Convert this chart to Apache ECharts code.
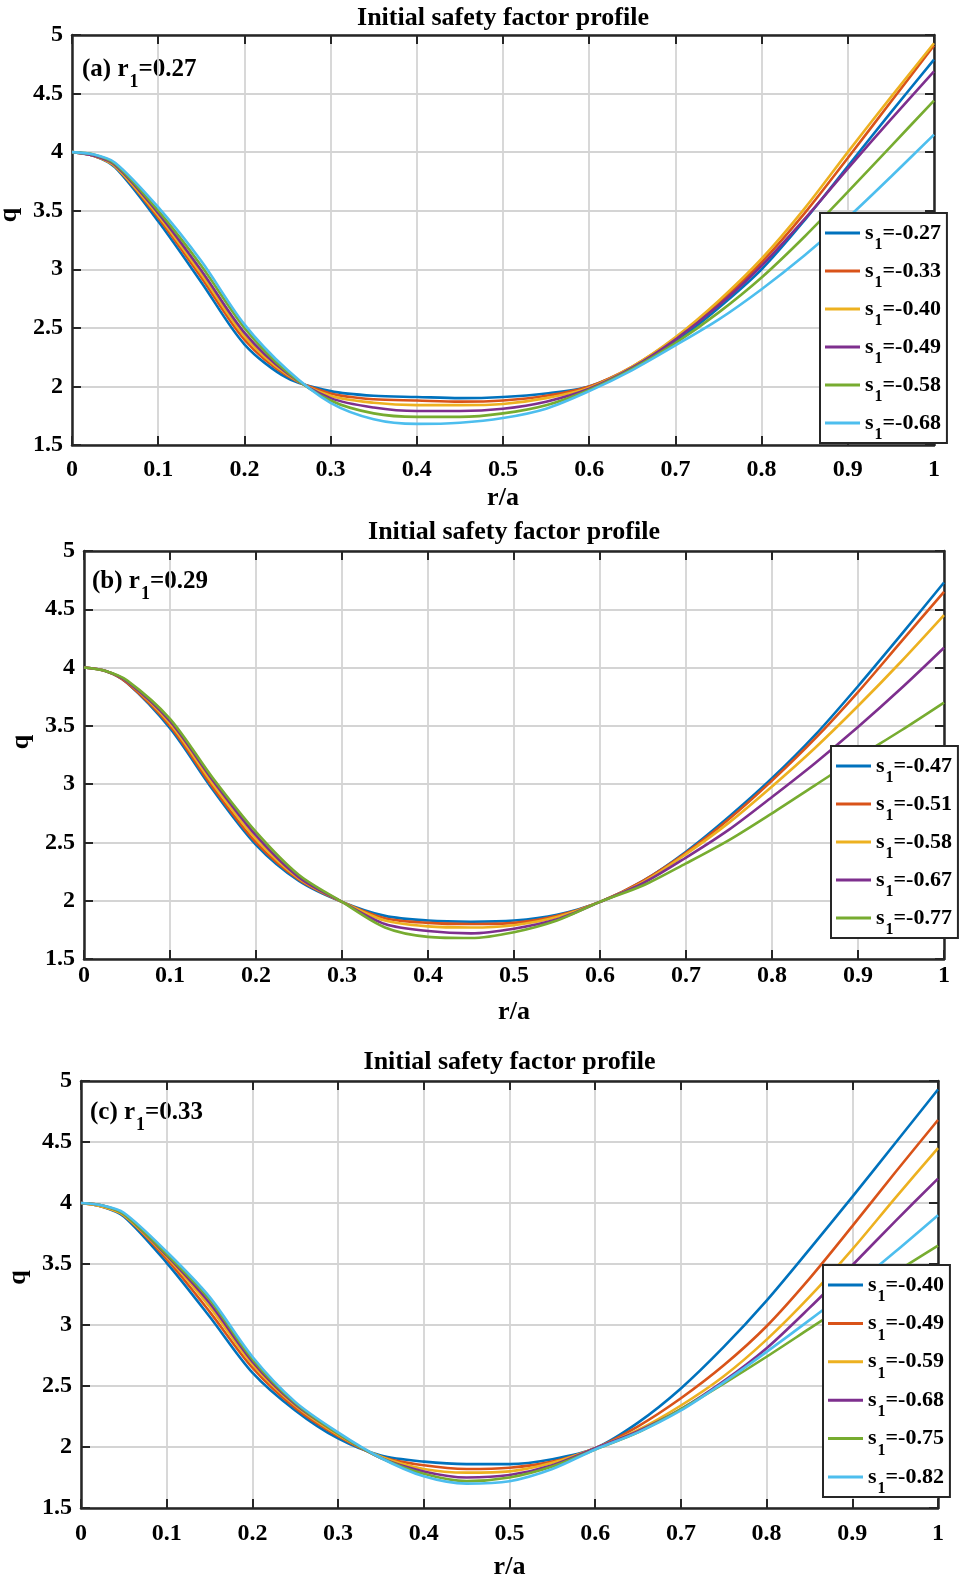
<!DOCTYPE html>
<html>
<head>
<meta charset="utf-8">
<title>Initial safety factor profile</title>
<script src="https://cdn.jsdelivr.net/npm/echarts@6.0.0/dist/echarts.min.js"></script>
<style>
  html, body { margin: 0; padding: 0; background: #fff; }
  #chart { width: 959px; height: 1580px; }
</style>
</head>
<body>
<div id="chart"></div>
<script>
// sample positions r/a, shared by every curve
const rPoints = [0, 0.025, 0.05, 0.1, 0.15, 0.2, 0.25, 0.3, 0.35, 0.4, 0.45, 0.5,
                 0.55, 0.6, 0.65, 0.7, 0.75, 0.8, 0.85, 0.9, 0.95, 1];

const xTicks = [0, 1, 0.1];      // min, max, step
const yTicks = [1.5, 5, 0.5];

// (a) r1 = 0.27
const sA = ['-0.27', '-0.33', '-0.40', '-0.49', '-0.58', '-0.68'];
const qA_027 = [4.00, 3.97, 3.87, 3.41, 2.89, 2.36, 2.07, 1.96, 1.92, 1.91, 1.90, 1.91, 1.94, 2.00, 2.16, 2.38, 2.67, 3.00, 3.42, 3.88, 4.34, 4.79];
const qA_033 = [4.00, 3.97, 3.88, 3.44, 2.93, 2.40, 2.09, 1.94, 1.89, 1.88, 1.87, 1.88, 1.92, 2.00, 2.17, 2.41, 2.71, 3.06, 3.48, 3.95, 4.43, 4.91];
const qA_040 = [4.00, 3.97, 3.88, 3.46, 2.96, 2.43, 2.10, 1.92, 1.86, 1.84, 1.84, 1.85, 1.90, 1.99, 2.17, 2.42, 2.73, 3.09, 3.52, 4.00, 4.47, 4.93];
const qA_049 = [4.00, 3.97, 3.89, 3.48, 2.99, 2.46, 2.11, 1.90, 1.82, 1.79, 1.79, 1.81, 1.87, 1.98, 2.16, 2.40, 2.69, 3.03, 3.43, 3.86, 4.28, 4.69];
const qA_058 = [4.00, 3.98, 3.90, 3.50, 3.03, 2.50, 2.12, 1.88, 1.77, 1.74, 1.74, 1.77, 1.84, 1.97, 2.15, 2.37, 2.63, 2.93, 3.28, 3.66, 4.05, 4.44];
const qA_068 = [4.00, 3.98, 3.91, 3.53, 3.07, 2.53, 2.14, 1.86, 1.72, 1.68, 1.69, 1.73, 1.81, 1.96, 2.14, 2.35, 2.57, 2.83, 3.12, 3.44, 3.79, 4.15];

// (b) r1 = 0.29
const sB = ['-0.47', '-0.51', '-0.58', '-0.67', '-0.77'];
const qB_047 = [4.00, 3.97, 3.87, 3.48, 2.95, 2.48, 2.17, 1.99, 1.87, 1.83, 1.82, 1.83, 1.88, 1.99, 2.17, 2.42, 2.72, 3.05, 3.42, 3.84, 4.28, 4.73];
const qB_051 = [4.00, 3.97, 3.87, 3.50, 2.97, 2.50, 2.18, 1.99, 1.85, 1.81, 1.80, 1.81, 1.87, 1.99, 2.17, 2.41, 2.70, 3.03, 3.39, 3.79, 4.22, 4.65];
const qB_058 = [4.00, 3.97, 3.88, 3.52, 3.00, 2.53, 2.19, 1.99, 1.83, 1.78, 1.77, 1.79, 1.86, 1.99, 2.16, 2.40, 2.67, 2.98, 3.31, 3.67, 4.05, 4.45];
const qB_067 = [4.00, 3.97, 3.88, 3.54, 3.03, 2.56, 2.20, 1.99, 1.80, 1.74, 1.72, 1.76, 1.84, 1.99, 2.15, 2.37, 2.61, 2.89, 3.18, 3.49, 3.82, 4.17];
const qB_077 = [4.00, 3.97, 3.89, 3.56, 3.05, 2.59, 2.22, 1.99, 1.77, 1.69, 1.68, 1.73, 1.83, 1.99, 2.13, 2.32, 2.52, 2.75, 2.99, 3.23, 3.46, 3.70];

// (c) r1 = 0.33
const sC = ['-0.40', '-0.49', '-0.59', '-0.68', '-0.75', '-0.82'];
const qC_040 = [4.00, 3.97, 3.89, 3.51, 3.07, 2.61, 2.30, 2.07, 1.93, 1.88, 1.86, 1.86, 1.90, 1.99, 2.20, 2.48, 2.82, 3.20, 3.62, 4.05, 4.49, 4.93];
const qC_049 = [4.00, 3.97, 3.90, 3.54, 3.11, 2.65, 2.32, 2.09, 1.92, 1.85, 1.82, 1.83, 1.88, 1.99, 2.17, 2.40, 2.67, 2.99, 3.38, 3.81, 4.25, 4.68];
const qC_059 = [4.00, 3.97, 3.90, 3.56, 3.15, 2.68, 2.34, 2.10, 1.92, 1.82, 1.79, 1.80, 1.87, 1.99, 2.14, 2.34, 2.58, 2.88, 3.23, 3.62, 4.04, 4.45];
const qC_068 = [4.00, 3.98, 3.91, 3.57, 3.18, 2.70, 2.35, 2.11, 1.91, 1.80, 1.75, 1.77, 1.85, 1.99, 2.13, 2.31, 2.54, 2.81, 3.14, 3.49, 3.85, 4.20];
const qC_075 = [4.00, 3.98, 3.91, 3.58, 3.21, 2.72, 2.36, 2.11, 1.91, 1.78, 1.72, 1.75, 1.84, 1.98, 2.12, 2.31, 2.52, 2.74, 2.97, 3.20, 3.43, 3.65];
const qC_082 = [4.00, 3.98, 3.92, 3.60, 3.23, 2.74, 2.37, 2.12, 1.91, 1.76, 1.70, 1.72, 1.82, 1.98, 2.12, 2.30, 2.53, 2.78, 3.04, 3.31, 3.60, 3.90];

// matlab default line colours
const lineColors = ['#0072BD', '#D95319', '#EDB120', '#7E2F8E', '#77AC30', '#4DBEEE'];

const font = '"Liberation Serif", "Times New Roman", serif';
const ink = '#262626';

// panel placement
const panels = [
  { key: 'a', tag: '0.27', labels: sA, curves: [qA_027, qA_033, qA_040, qA_049, qA_058, qA_068],
    left: 72, top: 35, width: 862, height: 410, labelMargin: 13, nameGap: 40, qShift: 50,
    legendAt: [820, 213], tagAt: [82, 70], titleY: 18 },
  { key: 'b', tag: '0.29', labels: sB, curves: [qB_047, qB_051, qB_058, qB_067, qB_077],
    left: 84, top: 551, width: 860, height: 408, labelMargin: 5, nameGap: 40, qShift: 26,
    legendAt: [831, 746], tagAt: [92, 582], titleY: 532 },
  { key: 'c', tag: '0.33', labels: sC, curves: [qC_040, qC_049, qC_059, qC_068, qC_075, qC_082],
    left: 81, top: 1081, width: 857, height: 427, labelMargin: 14, nameGap: 46, qShift: 34,
    legendAt: [823, 1265], tagAt: [90, 1113], titleY: 1062, legendGap: -1.6 }
];

const boldText = { fontFamily: font, fontWeight: 'bold', color: '#000' };
const frameLine = { onZero: false, lineStyle: { color: ink, width: 2.5 } };
const frameTick = { inside: true, length: 9, lineStyle: { color: ink, width: 2 } };
const gridLine = { show: true, lineStyle: { color: '#d4d4d4', width: 1.8 } };

const grid = [], xAxis = [], yAxis = [], series = [], legend = [], graphic = [];

panels.forEach((p, i) => {
  grid.push({ left: p.left, top: p.top, width: p.width, height: p.height, outerBoundsMode: 'none' });

  const xBase = { type: 'value', gridIndex: i, min: xTicks[0], max: xTicks[1], interval: xTicks[2] };
  const yBase = { type: 'value', gridIndex: i, min: yTicks[0], max: yTicks[1], interval: yTicks[2] };

  xAxis.push({
    ...xBase, position: 'bottom',
    axisLine: frameLine, axisTick: frameTick, splitLine: gridLine,
    axisLabel: { ...boldText, fontSize: 24, margin: p.labelMargin, showMinLabel: true, showMaxLabel: true },
    name: 'r/a', nameLocation: 'middle', nameGap: p.nameGap,
    nameTextStyle: { ...boldText, fontSize: 26 }
  });
  xAxis.push({
    ...xBase, position: 'top',
    axisLine: frameLine, axisTick: frameTick, splitLine: { show: false }, axisLabel: { show: false }
  });
  yAxis.push({
    ...yBase, position: 'left',
    axisLine: frameLine, axisTick: frameTick, splitLine: gridLine,
    axisLabel: { ...boldText, fontSize: 24, margin: 9, showMinLabel: true, showMaxLabel: true },
    name: 'q', nameLocation: 'middle', nameGap: 43, nameRotate: 90,
    nameTextStyle: { ...boldText, fontSize: 26, padding: [0, 0, 0, p.qShift] }
  });
  yAxis.push({
    ...yBase, position: 'right',
    axisLine: frameLine, axisTick: frameTick, splitLine: { show: false }, axisLabel: { show: false }
  });

  const names = [];
  p.curves.forEach((q, k) => {
    const name = p.key + ' ' + p.labels[k];
    names.push(name);
    series.push({
      type: 'line',
      name: name,
      xAxisIndex: 2 * i,
      yAxisIndex: 2 * i,
      data: rPoints.map((r, j) => [r, q[j]]),
      symbol: 'none',
      smooth: 0.3,
      color: lineColors[k],
      lineStyle: { width: 2.6, color: lineColors[k] },
      animation: false
    });
  });

  legend.push({
    data: names,
    orient: 'vertical',
    left: p.legendAt[0],
    top: p.legendAt[1],
    icon: 'rect',
    itemWidth: 35,
    itemHeight: 3,
    itemGap: p.legendGap || -2,
    padding: [0, 6, 0, 5],
    borderColor: ink,
    borderWidth: 2,
    borderRadius: 0,
    backgroundColor: '#fff',
    selectedMode: false,
    formatter: n => '{m|s}{b|1}{m|=' + n.split(' ')[1] + '}',
    textStyle: {
      rich: {
        m: { ...boldText, fontSize: 22, lineHeight: 22, padding: [9, 0, 9, 0] },
        b: { ...boldText, fontSize: 16, lineHeight: 16, padding: [24, 0, 0, 1] }
      }
    }
  });

  // panel title
  graphic.push({
    type: 'text',
    x: p.left + p.width / 2,
    y: p.titleY,
    style: {
      text: 'Initial safety factor profile',
      fontFamily: font, fontWeight: 'bold', fontSize: 26, fill: '#000',
      align: 'center', verticalAlign: 'middle'
    }
  });
  // (a) r1=0.27 style tag
  graphic.push({
    type: 'text',
    x: p.tagAt[0],
    y: p.tagAt[1],
    style: {
      text: '{m|(' + p.key + ') r}{b|1}{m|=' + p.tag + '}',
      fill: '#000',
      align: 'left', verticalAlign: 'middle',
      rich: {
        m: { fontFamily: font, fontWeight: 'bold', fontSize: 25, lineHeight: 25, padding: [8, 0, 9, 0], fill: '#000' },
        b: { fontFamily: font, fontWeight: 'bold', fontSize: 18, lineHeight: 18, padding: [24, 0, 0, 1], fill: '#000' }
      }
    }
  });
});

const chart = echarts.init(document.getElementById('chart'));
chart.setOption({
  backgroundColor: '#fff',
  animation: false,
  grid: grid,
  xAxis: xAxis,
  yAxis: yAxis,
  legend: legend,
  series: series,
  graphic: graphic
});

window.addEventListener('resize', () => chart.resize());
</script>
</body>
</html>
